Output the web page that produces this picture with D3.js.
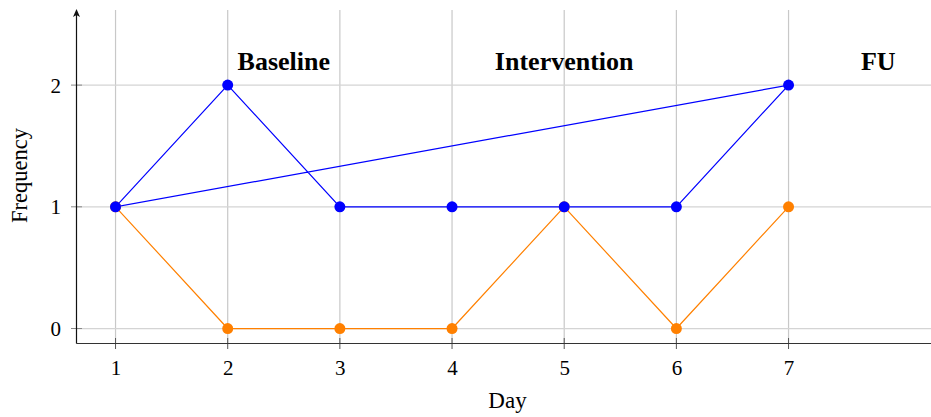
<!DOCTYPE html>
<html><head><meta charset="utf-8">
<script src="https://cdn.jsdelivr.net/npm/d3@7"></script>
<style>body{margin:0;background:#fff}svg{display:block}text{font-family:"Liberation Serif","Times New Roman",serif}</style>
</head><body>
<svg id="c" width="931" height="417"></svg>
<script>
const days = [1,2,3,4,5,6,7];
const blueSeries = [1,2,1,1,1,1,2];
const orangeSeries = [1,0,0,0,1,0,1];
const yTicks = [0,1,2];
const phaseLabels = ["Baseline","Intervention","FU"];
const phaseX = [2.5,5.0,7.8];
const phaseY = [2.2,2.2,2.2];

const svg = d3.select("#c");
const x = d3.scaleLinear().domain([0.652,8.27]).range([76.5,931]);
const y = d3.scaleLinear().domain([-0.123,2.617]).range([343.5,10]);

// grid
svg.append("g").selectAll("line").data(days).join("line")
  .attr("x1",d=>x(d)).attr("x2",d=>x(d)).attr("y1",10).attr("y2",343.5)
  .attr("stroke","#c8c8c8").attr("stroke-width",1.2);
svg.append("g").selectAll("line").data(yTicks).join("line")
  .attr("x1",76.5).attr("x2",931).attr("y1",d=>y(d)).attr("y2",d=>y(d))
  .attr("stroke","#d4d4d4").attr("stroke-width",1.2);

// axes
const xAxis = d3.axisBottom(x).tickValues(days).tickSize(0).tickFormat(d3.format("d"));
const gx = svg.append("g").attr("transform","translate(0,343.5)").call(xAxis);
gx.select(".domain").remove();
gx.selectAll("text").attr("font-size",21).attr("dy",0).attr("y",31.5).attr("fill","#000");
svg.append("g").selectAll("line").data(days).join("line")
  .attr("x1",d=>x(d)).attr("x2",d=>x(d)).attr("y1",338).attr("y2",349)
  .attr("stroke","#555").attr("stroke-width",1);

const yAxis = d3.axisLeft(y).tickValues(yTicks).tickSize(0).tickFormat(d3.format("d"));
const gy = svg.append("g").attr("transform","translate(76.5,0)").call(yAxis);
gy.select(".domain").remove();
gy.selectAll("text").attr("font-size",21).attr("x",-15.5).attr("dy","0.34em").attr("fill","#000");
svg.append("g").selectAll("line").data(yTicks).join("line")
  .attr("x1",71).attr("x2",82).attr("y1",d=>y(d)).attr("y2",d=>y(d))
  .attr("stroke","#888").attr("stroke-width",1);

svg.append("line").attr("x1",76.5).attr("x2",931).attr("y1",343.5).attr("y2",343.5).attr("stroke","#333").attr("stroke-width",1.2);
svg.append("line").attr("x1",76.5).attr("x2",76.5).attr("y1",343.5).attr("y2",13).attr("stroke","#111").attr("stroke-width",1.2);
svg.append("path").attr("d","M76.5,9 L73,17 L76.5,15 L80,17 Z").attr("fill","#111");

svg.append("text").attr("x",507.5).attr("y",408).attr("text-anchor","middle").attr("font-size",23).text("Day");
svg.append("text").attr("transform","translate(27,175.5) rotate(-90)").attr("text-anchor","middle").attr("font-size",22.5).text("Frequency");

// lines
const blueData = days.map((d,i)=>[d,blueSeries[i]]);
const orangeData = days.map((d,i)=>[d,orangeSeries[i]]);
const line = d3.line().x(d=>x(d[0])).y(d=>y(d[1]));
svg.append("path").attr("d",line(orangeData)).attr("fill","none").attr("stroke","#ff8000").attr("stroke-width",1.2);
svg.append("path").attr("d",line(blueData)+"Z").attr("fill","none").attr("stroke","#0000ff").attr("stroke-width",1.2);
svg.append("g").selectAll("circle").data(orangeData).join("circle")
  .attr("cx",d=>x(d[0])).attr("cy",d=>y(d[1])).attr("r",5.5).attr("fill","#ff8000");
svg.append("g").selectAll("circle").data(blueData).join("circle")
  .attr("cx",d=>x(d[0])).attr("cy",d=>y(d[1])).attr("r",5.5).attr("fill","#0000ff");

svg.append("g").selectAll("text").data(phaseLabels).join("text")
  .attr("x",(d,i)=>x(phaseX[i])).attr("y",(d,i)=>y(phaseY[i])).attr("dy","0.34em")
  .attr("text-anchor","middle").attr("font-size",26).attr("font-weight","bold").text(d=>d);
</script>
</body></html>
